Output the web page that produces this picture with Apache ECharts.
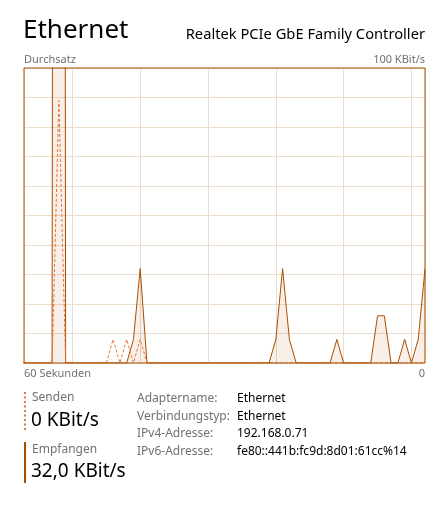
<!DOCTYPE html>
<html>
<head>
<meta charset="utf-8">
<script src="https://cdn.jsdelivr.net/npm/echarts@6/dist/echarts.min.js"></script>
<style>
html,body{margin:0;padding:0;background:#fff;}
#chart{width:442px;height:519px;}
</style>
</head>
<body>
<div id="chart"></div>
<script>
// samples, oldest (60 s ago) to newest (0 s ago)
const secondsAgo = [60,59,58,57,56,55,54,53,52,51,50,49,48,47,46,45,44,43,42,41,40,39,38,37,36,35,34,33,32,31,30,29,28,27,26,25,24,23,22,21,20,19,18,17,16,15,14,13,12,11,10,9,8,7,6,5,4,3,2,1,0];
const received = [0,0,0,0,0,0,2000,0,0,0,0,0,0,0,0,0,0,8,32,0,0,0,0,0,0,0,0,0,0,0,0,0,0,0,0,0,0,0,8,32,8,0,0,0,0,0,0,8,0,0,0,0,0,16,16,0,0,8,0,8,32];
const sent     = [0,0,0,0,0,0,89,0,0,0,0,0,0,0,8,0,8,0,8,0,0,0,0,0,0,0,0,0,0,0,0,0,0,0,0,0,0,0,0,0,0,0,0,0,0,0,0,0,0,0,0,0,0,0,0,0,0,0,0,0,0];
const yTicks = [0,10,20,30,40,50,60,70,80,90,100];
const details = [
  ['Adaptername:', 'Ethernet'],
  ['Verbindungstyp:', 'Ethernet'],
  ['IPv4-Adresse:', '192.168.0.71'],
  ['IPv6-Adresse:', 'fe80::441b:fc9d:8d01:61cc%14']
];

const BROWN = '#A74F01';
const ORANGE = '#E8743B';
const GRIDC = '#ECDCCB';
const GRAY = '#707070';
const FONT = '"Noto Sans", "Open Sans", sans-serif';

const chart = echarts.init(document.getElementById('chart'), null, {renderer:'canvas'});

const recData = secondsAgo.map((s,i)=>[-s, received[i]]);
const sentData = secondsAgo.map((s,i)=>[-s, sent[i]]);

const graphics = [
  {type:'text', left:23, top:18, style:{text:'Ethernet', font:'26px '+FONT, fill:'#000'}},
  {type:'text', right:17, top:27, style:{text:'Realtek PCIe GbE Family Controller', font:'14.7px '+FONT, fill:'#000'}},
  {type:'text', left:24, top:54, style:{text:'Durchsatz', font:'11px '+FONT, fill:GRAY}},
  {type:'text', right:17, top:54, style:{text:'100 KBit/s', font:'11px '+FONT, fill:GRAY}},
  {type:'text', left:24, top:368, style:{text:'60 Sekunden', font:'11px '+FONT, fill:GRAY}},
  {type:'text', right:17, top:368, style:{text:'0', font:'11px '+FONT, fill:GRAY}},
  {type:'line', shape:{x1:25, y1:392, x2:25, y2:432}, style:{stroke:ORANGE, lineWidth:2, lineDash:[2,2.5]}},
  {type:'text', left:32, top:392, style:{text:'Senden', font:'12px '+FONT, fill:GRAY}},
  {type:'text', left:31, top:411, style:{text:'0 KBit/s', font:'19px '+FONT, fill:'#000'}},
  {type:'rect', shape:{x:24, y:442, width:2, height:41}, style:{fill:BROWN}},
  {type:'text', left:32, top:444, style:{text:'Empfangen', font:'12px '+FONT, fill:GRAY}},
  {type:'text', left:31, top:462, style:{text:'32,0 KBit/s', font:'19px '+FONT, fill:'#000'}}
];
details.forEach((d,i)=>{
  graphics.push({type:'text', left:137, top:392.5+i*17.7, style:{text:d[0], font:'12px '+FONT, fill:GRAY}});
  graphics.push({type:'text', left:237, top:392.5+i*17.7, style:{text:d[1], font:'12px '+FONT, fill:'#000'}});
});

chart.setOption({
  animation:false,
  grid:{left:24, top:68, width:401, height:295, show:true, borderColor:BROWN, borderWidth:1, backgroundColor:'transparent', z:3},
  xAxis:[
    {type:'value', min:-59.14, max:0, axisLine:{show:false}, axisTick:{show:false}, axisLabel:{show:false}, splitLine:{show:false}},
    {type:'value', min:-57.14, max:2, position:'bottom', axisLine:{show:false}, axisTick:{show:false}, axisLabel:{show:false}, splitLine:{show:true, lineStyle:{color:GRIDC, width:1}}}
  ],
  yAxis:{type:'value', min:yTicks[0], max:yTicks[yTicks.length-1], interval:10, axisLine:{show:false}, axisTick:{show:false}, axisLabel:{show:false}, splitLine:{show:true, lineStyle:{color:GRIDC, width:1}}},
  series:[
    {type:'line', name:'Empfangen', data:recData, xAxisIndex:0, symbol:'none', clip:true, lineStyle:{color:BROWN, width:1}, areaStyle:{color:'rgba(167,79,1,0.09)', opacity:1}, z:2},
    {type:'line', name:'Senden', data:sentData, xAxisIndex:0, symbol:'none', clip:true, lineStyle:{color:ORANGE, width:1, type:[3,2]}, z:2}
  ],
  graphic:graphics
});
</script>
</body>
</html>
